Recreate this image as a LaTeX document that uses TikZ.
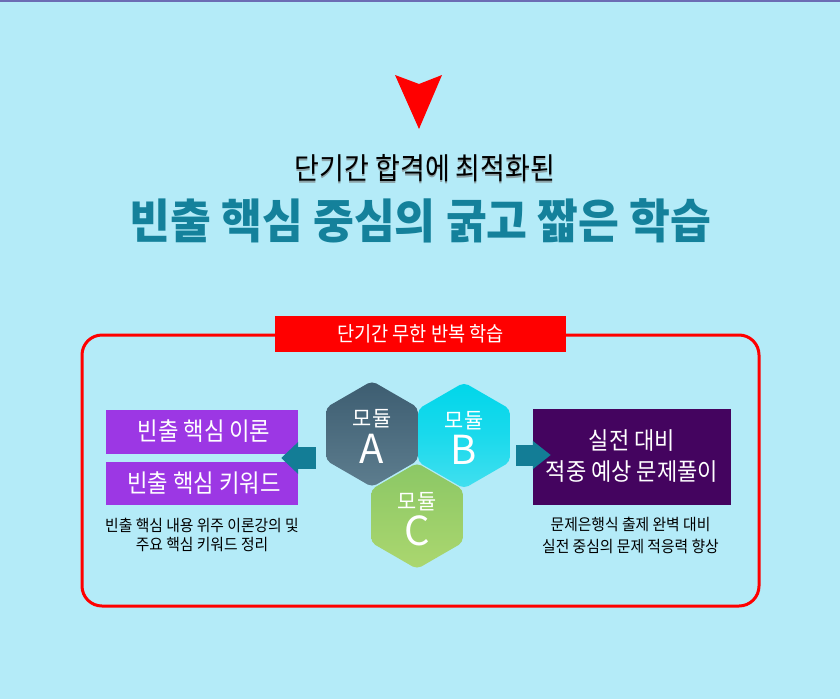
\documentclass[tikz,border=0pt]{standalone}
\usepackage{graphicx}
\usepackage{fontspec}
\setmainfont{Noto Sans CJK KR}
\usetikzlibrary{shapes.geometric,arrows.meta,calc}
\definecolor{bg}{HTML}{B4EBF8}
\definecolor{topline}{HTML}{6C6CB4}
\definecolor{titleteal}{HTML}{14819B}
\definecolor{pboxc}{HTML}{9C37E4}
\definecolor{dpurple}{HTML}{44045F}
\definecolor{arrowteal}{HTML}{137D96}
\definecolor{hAtop}{HTML}{3D5D71}
\definecolor{hAbot}{HTML}{5D7D8E}
\definecolor{hBtop}{HTML}{00D6EA}
\definecolor{hBbot}{HTML}{42DFEF}
\definecolor{hCtop}{HTML}{8BC765}
\definecolor{hCbot}{HTML}{ABD76F}
\newcommand{\cx}[2]{\scalebox{#1}[1]{#2}}
\tikzset{
  hexbox/.style={regular polygon, regular polygon sides=6, shape border rotate=30,
    minimum size=106pt, inner sep=0pt, rounded corners=5pt},
  pbox/.style={fill=pboxc, minimum width=192pt, inner sep=0pt},
  boxtext/.style={text=white, font=\fontsize{25}{28}\selectfont},
  hextext/.style={text=white, font=\fontsize{21.5}{24}\selectfont},
  hexletter/.style={text=white, font=\fontsize{40}{44}\selectfont},
  caption/.style={align=center, font=\fontsize{16}{19}\selectfont},
  blockarrow/.style={draw=arrowteal, line width=22pt, -{Triangle[length=17pt,width=31pt]}},
}
\begin{document}
\begin{tikzpicture}[x=1pt,y=-1pt]
\useasboundingbox (0,0) rectangle (840,699);
\fill[bg] (0,0) rectangle (840,699);
\draw[topline, line width=1.5pt] (0,0.75) -- (840,0.75);
% red arrowhead
\fill[red] (395,75) -- (419,84) -- (442,75) -- (419,129) -- cycle;
% titles
\node[text=black!55, opacity=0.6, font=\fontsize{30}{32}\selectfont] (subsh) at (425,170) {\cx{0.9}{단기간 합격에 최적화된}};
\node[text=black, font=\fontsize{30}{32}\selectfont] (sub) at (425,168.5) {\cx{0.9}{단기간 합격에 최적화된}};
\node[text=titleteal, font=\fontsize{47}{50}\bfseries\selectfont] (title) at (420.5,221) {\cx{0.945}{빈출 핵심 중심의 굵고 짧은 학습}};
% frame
\draw[red, line width=3pt, rounded corners=20pt] (82,335) rectangle (759,606);
\node[fill=red, minimum width=291pt, minimum height=36pt, inner sep=0pt, text=white,
  font=\fontsize{20.5}{22}\selectfont] (label) at (420.5,334) {\cx{0.91}{단기간 무한 반복 학습}};
% left boxes
\node[pbox, minimum height=44pt] (t1) at (202,432) {};
\node[pbox, minimum height=43pt] (t2) at (202,483.5) {};
\node[boxtext] (t1t) at (204,431.5) {\cx{0.89}{빈출 핵심 이론}};
\node[boxtext] (t2t) at (204,483) {\cx{0.89}{빈출 핵심 키워드}};
\node[caption] (lcap) at (202,535) {\cx{0.925}{빈출 핵심 내용 위주 이론강의 및}\\\cx{0.925}{주요 핵심 키워드 정리}};
% right box
\node[fill=dpurple, minimum width=198pt, minimum height=96pt, inner sep=0pt] (rb) at (632,457) {};
\node[text=white, font=\fontsize{24}{31}\selectfont, align=center] (rbt) at (632,456.5) {\cx{0.92}{실전 대비}\\\cx{0.92}{적중 예상 문제풀이}};
\node[caption, font=\fontsize{16}{22}\selectfont] (rcap) at (630.5,535) {\cx{0.925}{문제은행식 출제 완벽 대비}\\\cx{0.925}{실전 중심의 문제 적응력 향상}};
% hexagons
\node[hexbox, top color=hAtop, bottom color=hAbot] (hA) at (372,434) {};
\node[hexbox, top color=hBtop, bottom color=hBbot, middle color=hBtop!60!hBbot] (hB) at (464,435.5) {};
\node[hexbox, top color=hCtop, bottom color=hCbot] (hC) at (417,516) {};
\node[hextext] (hAa) at (372,419) {\cx{0.97}{모듈}};
\node[hexletter] (hAb) at (372,448.5) {A};
\node[hextext] (hBa) at (464,421) {\cx{0.97}{모듈}};
\node[hexletter] (hBb) at (464,450) {B};
\node[hextext] (hCa) at (417,501.5) {\cx{0.97}{모듈}};
\node[hexletter] (hCb) at (417,531) {C};
% connectors
\coordinate (lm) at ($(t1.south east)!0.5!(t2.north east)$);
\coordinate (ha) at ($(hA.west)+(-10,0)$);
\coordinate (la) at (ha |- lm);
\coordinate (lb) at ($(lm)+(-17,0)$);
\draw[blockarrow] (la) -- (lb);
\coordinate (rm) at ($(rb.west)+(0,-2)$);
\coordinate (hb) at ($(hB.east)+(6,0)$);
\coordinate (ra) at (hb |- rm);
\coordinate (rbend) at ($(rm)+(18,0)$);
\draw[blockarrow, line width=21pt, -{Triangle[length=18pt,width=27pt]}] (ra) -- (rbend);
\end{tikzpicture}
\end{document}
